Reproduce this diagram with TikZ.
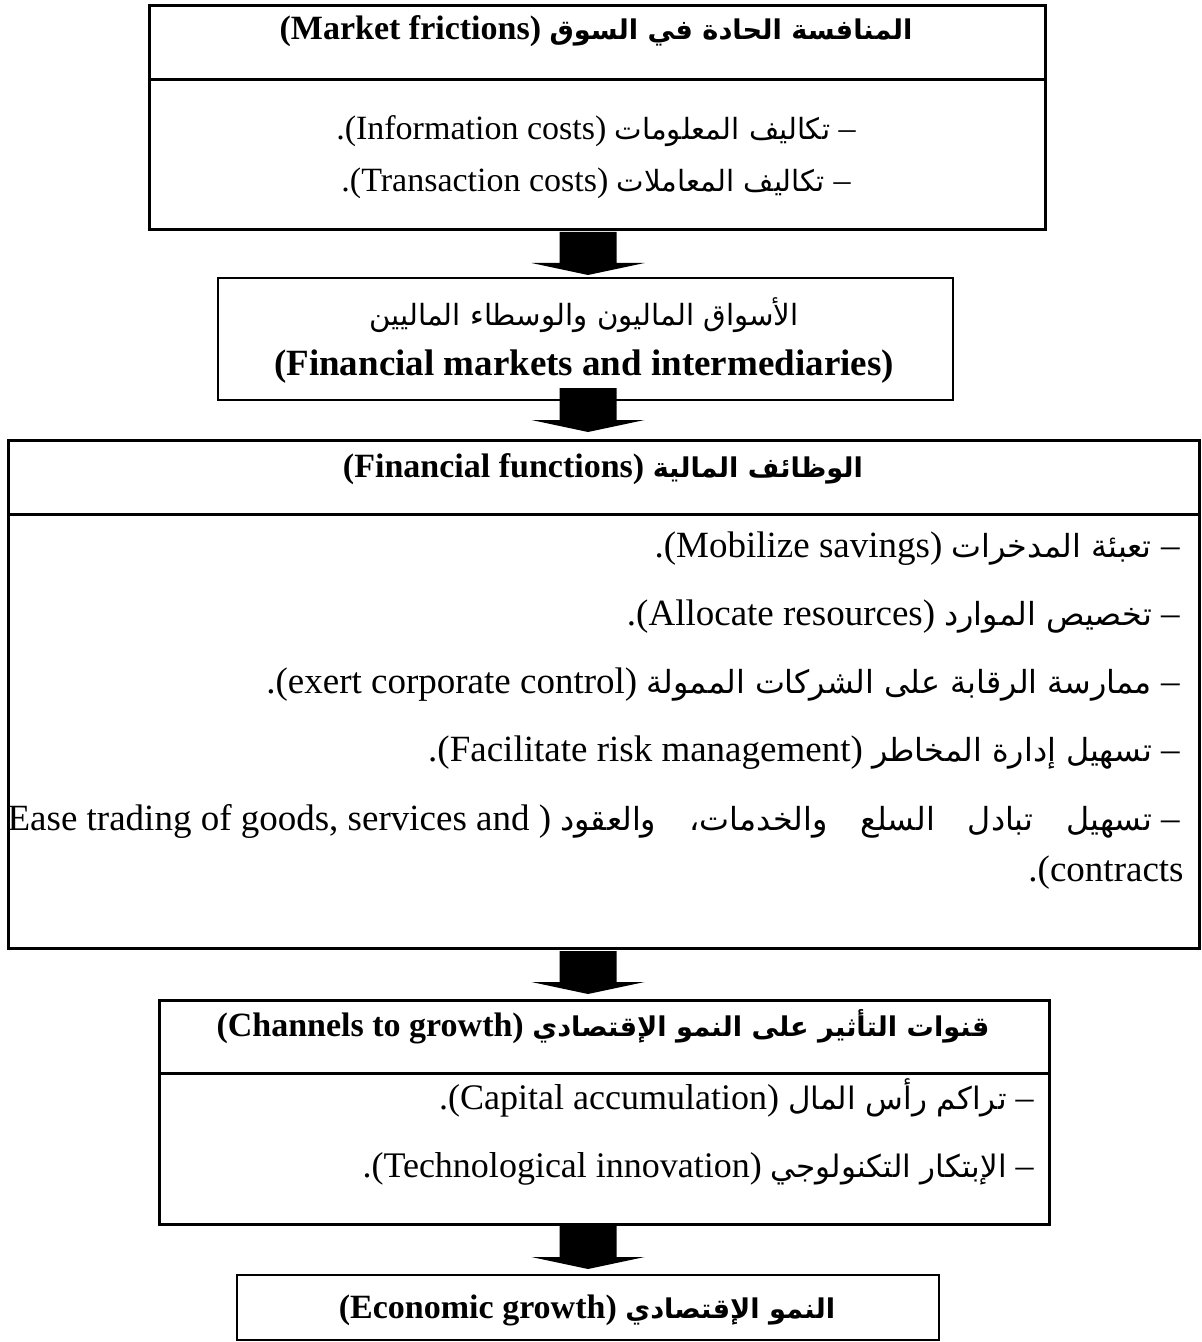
\documentclass[tikz,border=0pt]{standalone}
\usepackage{fontspec}
\setmainfont{Liberation Serif}
\newfontfamily\ar[Script=Arabic,Scale=0.86]{DejaVu Sans}
\newfontfamily\arb[Script=Arabic,Scale=0.80]{DejaVu Sans}
\TeXXeTstate=1
\usetikzlibrary{calc}
% Arabic runs, set right to left
\newcommand\AR[1]{{\ar\beginR #1\endR}}
\newcommand\ARB[1]{{\arb\beginR #1\endR}}
% solid block arrow from a start point down to a tip
\newcommand\blockarrow[2]{%
  \fill ($(#1)+(-28.5,0)$) -- ($(#1)+(28.5,0)$) -- ($(#2)+(28.5,-12)$)
    -- ($(#2)+(56.5,-12)$) -- (#2) -- ($(#2)+(-56.5,-12)$)
    -- ($(#2)+(-28.5,-12)$) -- cycle;}
\begin{document}
\begin{tikzpicture}[x=0.5pt,y=-0.5pt,
  frame/.style={draw, line width=1.5pt, anchor=north west, inner sep=0pt},
  thinframe/.style={draw, line width=1pt, anchor=north west, inner sep=0pt},
  divider/.style={line width=1.5pt},
  title/.style={font=\fontsize{17}{20}\selectfont\bfseries, inner sep=0pt},
  smallitem/.style={font=\fontsize{17}{20}\selectfont, inner sep=0pt},
  item/.style={font=\fontsize{18}{22}\selectfont, inner sep=0pt},
  bigitem/.style={font=\fontsize{18.5}{22}\selectfont, inner sep=0pt}]
\useasboundingbox (0,0) rectangle (1201,1342);

% frames
\node[frame, minimum width=448pt, minimum height=112pt] (b1) at (148,4) {};
\node[thinframe, minimum width=367.5pt, minimum height=61pt] (b2) at (217,277) {};
\node[frame, minimum width=595.5pt, minimum height=254pt] (b3) at (7,439) {};
\node[frame, minimum width=445pt, minimum height=112pt] (b4) at (158,999) {};
\node[thinframe, minimum width=351pt, minimum height=32.5pt] (b5) at (236,1274) {};

% header dividers
\draw[divider] ($(b1.north west)+(0,76)$) -- ($(b1.north east)+(0,76)$);
\draw[divider] ($(b3.north west)+(0,75)$) -- ($(b3.north east)+(0,75)$);
\draw[divider] ($(b4.north west)+(0,74)$) -- ($(b4.north east)+(0,74)$);

% box 1
\node[title] (t1) at (596,31) {(Market frictions) \ARB{المنافسة الحادة في السوق}};
\node[smallitem] (i11) at (596,131) {.(Information costs) \AR{تكاليف المعلومات} –};
\node[smallitem] (i12) at (596,183) {.(Transaction costs) \AR{تكاليف المعاملات} –};

% box 2
\node[font=\fontsize{17}{20}\selectfont, inner sep=0pt] (t2a) at (584,315) {\AR{الأسواق الماليون والوسطاء الماليين}};
\node[font=\fontsize{18.5}{22}\selectfont\bfseries, inner sep=0pt] (t2b) at (584,367) {(Financial markets and intermediaries)};

% box 3
\node[title] (t3) at (603,469) {(Financial functions) \ARB{الوظائف المالية}};
\node[bigitem, anchor=east] (i31) at (1180,549) {.(Mobilize savings) \AR{تعبئة المدخرات} –};
\node[bigitem, anchor=east] (i32) at (1180,617) {.(Allocate resources) \AR{تخصيص الموارد} –};
\node[bigitem, anchor=east] (i33) at (1180,685) {.(exert corporate control) \AR{ممارسة الرقابة على الشركات الممولة} –};
\node[bigitem, anchor=east] (i34) at (1180,753) {.(Facilitate risk management) \AR{تسهيل إدارة المخاطر} –};
\node[bigitem, anchor=east] (i35) at (1180,821) {\hbox to 586pt{Ease trading of goods, services and ) \AR{تسهيل\hfill\ تبادل\hfill\ السلع\hfill\ والخدمات،\hfill\ والعقود} –}};
\node[bigitem, anchor=east] (i36) at (1184,873) {.(contracts};

% box 4
\node[title] (t4) at (603,1027) {(Channels to growth) \ARB{قنوات التأثير على النمو الإقتصادي}};
\node[item, anchor=east] (i41) at (1034,1098) {.(Capital accumulation) \AR{تراكم رأس المال} –};
\node[item, anchor=east] (i42) at (1034,1169) {.(Technological innovation) \AR{الإبتكار التكنولوجي} –};

% box 5
\node[title] (t5) at (587,1310) {(Economic growth) \ARB{النمو الإقتصادي}};

% block arrows between the frames
\coordinate (a1s) at (588,232);  \coordinate (a1e) at (588,275);
\coordinate (a2s) at (588,388);  \coordinate (a2e) at (588,432);
\coordinate (a3s) at (588,951);  \coordinate (a3e) at (588,994);
\coordinate (a4s) at (588,1226); \coordinate (a4e) at (588,1269);
\blockarrow{a1s}{a1e}
\blockarrow{a2s}{a2e}
\blockarrow{a3s}{a3e}
\blockarrow{a4s}{a4e}
\end{tikzpicture}
\end{document}
